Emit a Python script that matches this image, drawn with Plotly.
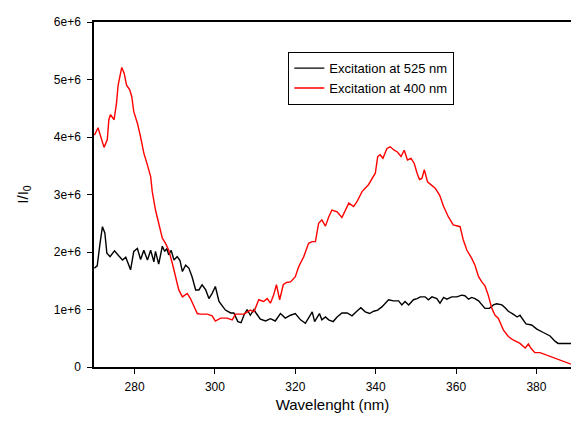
import plotly.graph_objects as go

# Excitation at 525 nm (black)
wl_525 = [270.0, 270.7, 271.4, 272.0, 272.6, 273.1, 273.9, 275.0, 276.1, 277.0, 277.8, 278.3, 279.0,
          279.8, 280.7, 281.5, 282.3, 283.2, 284.0, 284.8, 285.2, 286.0, 286.9, 287.5, 288.0, 288.5,
          289.1, 289.8, 290.6, 291.3, 291.9, 292.7, 293.5, 294.3, 295.2, 296.0, 296.8, 297.7, 298.5,
          299.3, 300.1, 301.0, 302.6, 303.9, 304.7, 305.7, 306.5, 307.2, 308.0, 308.8, 309.7, 310.3,
          311.3, 312.6, 313.8, 315.0, 316.3, 317.5, 318.8, 320.0, 321.3, 322.5, 323.3, 324.2, 324.8,
          325.4, 326.0, 326.6, 327.5, 328.3, 329.4, 330.4, 331.6, 332.9, 334.1, 335.3, 336.3, 337.4,
          338.5, 339.5, 340.5, 341.6, 342.4, 343.2, 344.4, 345.7, 346.5, 347.3, 348.2, 349.4, 350.3,
          351.1, 352.3, 353.1, 354.0, 355.2, 356.0, 356.9, 357.7, 358.9, 360.2, 361.4, 362.2, 363.1,
          363.9, 364.7, 365.6, 366.4, 367.2, 368.3, 369.3, 370.1, 371.4, 372.2, 373.0, 374.2, 375.2,
          375.9, 376.7, 377.4, 378.8, 380.1, 381.7, 383.4, 384.6, 385.4, 386.7, 388.6]
int_525 = [1.72, 1.76, 2.15, 2.44, 2.33, 1.98, 1.92, 2.02, 1.93, 1.86, 1.91, 1.83, 1.69,
           2.01, 2.06, 1.87, 2.03, 1.86, 2.03, 1.83, 2.01, 1.79, 2.10, 2.01, 2.06, 1.95,
           2.03, 1.86, 1.92, 1.85, 1.66, 1.77, 1.72, 1.57, 1.34, 1.34, 1.43, 1.34, 1.19,
           1.28, 1.40, 1.14, 0.99, 0.94, 0.94, 0.79, 0.77, 0.90, 1.00, 0.90, 1.00, 0.93,
           0.83, 0.80, 0.84, 0.80, 0.93, 0.85, 0.90, 0.93, 0.82, 0.76, 0.85, 0.96, 0.79,
           0.87, 0.93, 0.82, 0.87, 0.82, 0.79, 0.87, 0.94, 0.94, 0.89, 0.97, 1.03, 0.96,
           0.93, 0.97, 0.99, 1.05, 1.11, 1.17, 1.15, 1.15, 1.08, 1.14, 1.08, 1.17, 1.19,
           1.22, 1.22, 1.17, 1.22, 1.19, 1.11, 1.21, 1.18, 1.22, 1.22, 1.25, 1.24, 1.18,
           1.21, 1.19, 1.15, 1.08, 1.02, 1.02, 1.08, 1.10, 1.08, 1.03, 0.97, 0.92, 0.87,
           0.90, 0.82, 0.75, 0.73, 0.66, 0.60, 0.54, 0.45, 0.41, 0.41, 0.41]

# Excitation at 400 nm (red)
wl_400 = [270.0, 270.9, 272.4, 273.2, 273.6, 274.0, 274.9, 275.5, 275.9, 276.8, 277.4, 278.0, 278.8,
          279.3, 279.8, 280.7, 281.5, 282.3, 283.2, 284.0, 284.4, 285.2, 286.0, 286.9, 287.7, 288.5,
          289.4, 290.2, 291.0, 291.9, 293.1, 293.9, 294.7, 295.6, 296.4, 298.1, 299.3, 300.1, 301.4,
          303.0, 304.3, 305.1, 307.2, 308.8, 309.7, 310.9, 312.1, 313.0, 313.8, 314.6, 315.3, 316.1,
          317.0, 317.8, 318.8, 320.0, 320.8, 322.1, 323.3, 324.2, 325.0, 325.8, 326.6, 327.5, 328.3,
          329.1, 330.4, 331.6, 333.3, 334.5, 335.3, 336.6, 338.2, 339.1, 339.9, 340.5, 341.1, 341.8,
          342.8, 343.6, 344.6, 345.4, 346.3, 347.1, 347.9, 348.8, 349.6, 350.3, 350.9, 351.5, 352.1,
          352.9, 353.7, 354.8, 355.9, 356.9, 358.1, 359.3, 361.0, 361.8, 362.7, 363.9, 364.7, 365.6,
          366.4, 367.2, 368.0, 368.9, 369.7, 370.5, 371.8, 373.0, 374.2, 375.9, 377.2, 378.0, 378.6,
          379.6, 380.9, 382.5, 384.2, 385.9, 387.5, 388.6]
int_400 = [4.03, 4.16, 3.82, 3.95, 4.30, 4.39, 4.30, 4.59, 4.90, 5.21, 5.11, 4.90, 4.82,
           4.70, 4.44, 4.24, 4.00, 3.72, 3.51, 3.31, 3.05, 2.73, 2.50, 2.24, 2.15, 2.03,
           1.80, 1.57, 1.34, 1.22, 1.28, 1.19, 1.08, 0.93, 0.92, 0.92, 0.89, 0.80, 0.85,
           0.85, 0.82, 0.92, 0.92, 0.99, 0.96, 1.17, 1.14, 1.19, 1.11, 1.25, 1.43, 1.17,
           1.43, 1.47, 1.48, 1.57, 1.74, 1.92, 2.15, 2.18, 2.18, 2.50, 2.56, 2.45, 2.61,
           2.73, 2.70, 2.60, 2.85, 2.79, 2.87, 3.05, 3.17, 3.28, 3.37, 3.66, 3.69, 3.63,
           3.80, 3.83, 3.77, 3.74, 3.66, 3.77, 3.60, 3.63, 3.54, 3.37, 3.26, 3.28, 3.43,
           3.22, 3.18, 3.11, 2.99, 2.79, 2.61, 2.47, 2.44, 2.21, 2.03, 1.89, 1.77, 1.57,
           1.48, 1.41, 1.25, 1.02, 0.90, 0.85, 0.64, 0.53, 0.47, 0.41, 0.33, 0.40, 0.33,
           0.25, 0.25, 0.21, 0.16, 0.12, 0.075, 0.05]

x_ticks = [280, 300, 320, 340, 360, 380]
y_ticks = [0, 1e6, 2e6, 3e6, 4e6, 5e6, 6e6]
y_tick_text = ["0", "1e+6", "2e+6", "3e+6", "4e+6", "5e+6", "6e+6"]

FONT = "Liberation Sans, Arial, sans-serif"

fig = go.Figure()
fig.add_trace(go.Scatter(x=wl_525, y=[v * 1e6 for v in int_525], mode="lines",
                         name="Excitation at 525 nm", line=dict(color="#000000", width=1.4)))
fig.add_trace(go.Scatter(x=wl_400, y=[v * 1e6 for v in int_400], mode="lines",
                         name="Excitation at 400 nm", line=dict(color="#ff0000", width=1.4)))

fig.update_layout(
    width=571, height=425,
    margin=dict(l=94, r=0, t=22, b=58),
    paper_bgcolor="white", plot_bgcolor="white",
    font=dict(family=FONT, size=12, color="#000000"),
    showlegend=True,
    legend=dict(x=0.407, y=0.913, xanchor="left", yanchor="top",
                bordercolor="#000000", borderwidth=1.2, bgcolor="white",
                font=dict(family=FONT, size=13, color="#000000"),
                tracegroupgap=0, itemwidth=30),
    xaxis=dict(range=[269.9, 388.6], tickvals=x_ticks, ticks="outside", ticklen=5,
               tickcolor="#000000", showline=True, linecolor="#000000", linewidth=1.5,
               mirror=True, showgrid=False, zeroline=False, ticklabelstandoff=3,
               tickfont=dict(family=FONT, size=12, color="#000000"),
               title=dict(text="Wavelenght (nm)", font=dict(family=FONT, size=15, color="#000000"),
                          standoff=6)),
    yaxis=dict(range=[0, 6e6], tickvals=y_ticks, ticktext=y_tick_text, ticks="outside",
               ticklen=5, tickcolor="#000000", showline=True, linecolor="#000000", linewidth=1.5,
               mirror=False, showgrid=False, zeroline=False, ticklabelstandoff=4,
               tickfont=dict(family=FONT, size=12, color="#000000"),
               title=dict(text="I/I<sub>0</sub>", font=dict(family=FONT, size=15, color="#000000"),
                          standoff=22)),
)

# remove the default 8px page margin so the figure sits at the window's top-left corner
fig.write_html("out.html",
               config={"displayModeBar": False},
               post_script="document.body.style.margin='0';document.body.style.overflow='hidden';")
